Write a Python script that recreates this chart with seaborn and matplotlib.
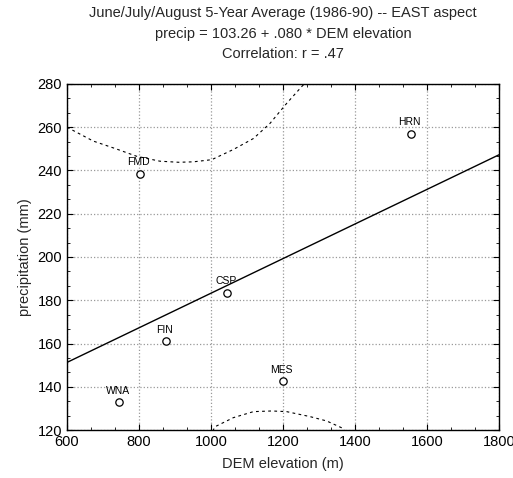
import numpy as np
import pandas as pd
import matplotlib
matplotlib.use("Agg")
import matplotlib.pyplot as plt
import seaborn as sns
from matplotlib.ticker import MultipleLocator

# ---- data ----
stations = ["FMD", "HRN", "CSP", "FIN", "WNA", "MES"]
elevation = [803, 1555, 1045, 875, 745, 1200]        # DEM elevation (m)
precip = [238.5, 257.0, 183.5, 161.0, 133.0, 142.5]   # precipitation (mm)
intercept = 103.26
slope = 0.080

# 95% confidence band
upper_x = [600, 673, 733, 793, 858, 910, 951, 1002, 1062, 1118, 1164, 1210, 1252, 1262]
upper_y = [260.0, 253.6, 250.2, 246.6, 244.3, 243.8, 244.0, 245.0, 249.7, 254.8, 261.8, 271.0, 278.8, 280.5]
lower_x = [1005, 1011, 1062, 1118, 1169, 1210, 1275, 1321, 1366, 1372]
lower_y = [119.5, 121.5, 125.7, 128.5, 128.8, 128.5, 126.2, 124.2, 120.8, 119.5]

x_ticks = [600, 800, 1000, 1200, 1400, 1600, 1800]
y_ticks = [120, 140, 160, 180, 200, 220, 240, 260, 280]

df = pd.DataFrame({"station": stations, "elev": elevation, "precip": precip})
line_x = np.array([x_ticks[0], x_ticks[-1]], float)
fit_df = pd.DataFrame({"x": line_x, "fit": intercept + slope * line_x})
up_df = pd.DataFrame({"x": upper_x, "y": upper_y})
lo_df = pd.DataFrame({"x": lower_x, "y": lower_y})

sns.set_style("ticks")
plt.rcParams["font.family"] = ["Liberation Sans", "DejaVu Sans"]

fig = plt.figure(figsize=(5.13, 4.78), dpi=100)
ax = fig.add_axes([0.1306, 0.1004, 0.8421, 0.7239])

ax.set_xlim(600, 1800)
ax.set_ylim(120, 280)
ax.set_xticks(x_ticks)
ax.set_yticks(y_ticks)
ax.xaxis.set_minor_locator(MultipleLocator(200 / 3))
ax.yaxis.set_minor_locator(MultipleLocator(20 / 3))
ax.grid(True, which="major", color="#999999", linestyle=":", linewidth=0.9)
ax.set_axisbelow(True)

sns.lineplot(data=fit_df, x="x", y="fit", ax=ax, color="black", linewidth=1.0)
sns.lineplot(data=up_df, x="x", y="y", ax=ax, color="black", linewidth=0.8,
             linestyle=(0, (2.5, 3)), sort=False)
sns.lineplot(data=lo_df, x="x", y="y", ax=ax, color="black", linewidth=0.8,
             linestyle=(0, (2.5, 3)), sort=False)
sns.scatterplot(data=df, x="elev", y="precip", ax=ax, marker="o", s=28,
                facecolor="white", edgecolor="black", linewidth=0.9, zorder=5)

for st, xv, yv in zip(stations, elevation, precip):
    ax.annotate(st, (xv, yv), xytext=(-1, 4.5), textcoords="offset points",
                ha="center", va="bottom", fontsize=7.5, color="black")

ax.tick_params(which="both", direction="in", top=True, right=True,
               labelsize=10.5, colors="black")
ax.tick_params(which="major", length=4, width=0.8)
ax.tick_params(which="minor", length=2, width=0.6)
for sp in ax.spines.values():
    sp.set_color("black")
    sp.set_linewidth(1.0)

ax.set_xlabel("DEM elevation (m)", fontsize=10.5, labelpad=6)
ax.set_ylabel("precipitation (mm)", fontsize=10.5, labelpad=4)

fig.text(0.552, 0.972, "June/July/August 5-Year Average (1986-90) -- EAST aspect",
         ha="center", va="center", fontsize=10.5)
fig.text(0.552, 0.929, "precip = 103.26 + .080 * DEM elevation",
         ha="center", va="center", fontsize=10.5)
fig.text(0.552, 0.886, "Correlation: r = .47",
         ha="center", va="center", fontsize=10.5)

fig.savefig("out.png", dpi=100)
